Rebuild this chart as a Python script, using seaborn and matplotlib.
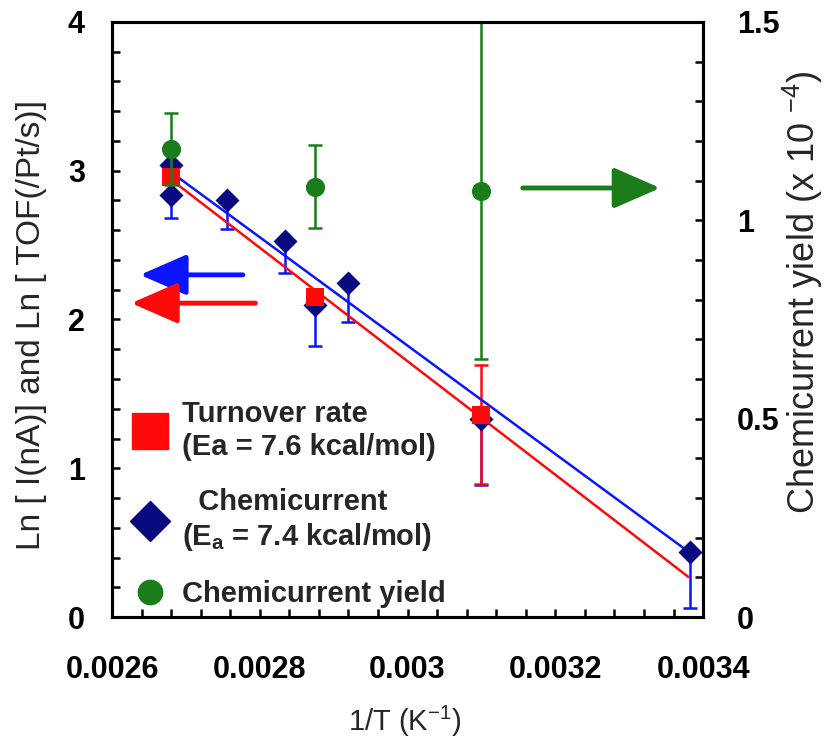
import matplotlib
matplotlib.use("Agg")
import matplotlib.pyplot as plt
from matplotlib.lines import Line2D
from matplotlib.ticker import MultipleLocator, FixedLocator
import seaborn as sns
import pandas as pd

# ---------------- data ----------------
x_tor = [0.00268, 0.002875, 0.0031]
y_tor = [2.96, 2.15, 1.36]
err_tor_low = [0.05, 0.05, 0.465]
err_tor_high = [0.05, 0.05, 0.335]

x_cc = [0.00268, 0.00268, 0.002756, 0.002834, 0.002875, 0.002919, 0.0031, 0.003382]
y_cc = [3.04, 2.84, 2.80, 2.53, 2.10, 2.245, 1.33, 0.44]
err_cc_low = [0.0, 0.16, 0.19, 0.22, 0.28, 0.265, 0.44, 0.38]

x_yield = [0.00268, 0.002875, 0.0031]
y_yield = [1.18, 1.085, 1.075]
err_yield = [0.09, 0.105, 0.425]

fit_x = [0.00268, 0.00338]
fit_tor = [2.94, 0.27]
fit_cc = [2.99, 0.44]

x_ticks = [0.0026, 0.0028, 0.003, 0.0032, 0.0034]
x_ticklabels = ["0.0026", "0.0028", "0.003", "0.0032", "0.0034"]
yl_ticks = [0, 1, 2, 3, 4]
yl_ticklabels = ["0", "1", "2", "3", "4"]
yr_ticks = [0, 0.5, 1.0, 1.5]
yr_ticklabels = ["0", "0.5", "1", "1.5"]

legend_labels = ["Turnover rate\n(Ea = 7.6 kcal/mol)",
                 "  Chemicurrent\n(E$_\\mathbf{a}$ = 7.4 kcal/mol)",
                 "Chemicurrent yield"]

# ---------------- style ----------------
sns.set_style("ticks")
plt.rcParams['font.family'] = ['Liberation Sans', 'DejaVu Sans']
plt.rcParams['mathtext.fontset'] = 'custom'
plt.rcParams['mathtext.rm'] = 'Liberation Sans'
plt.rcParams['mathtext.bf'] = 'Liberation Sans:bold'
plt.rcParams['mathtext.default'] = 'regular'

RED = "#ff0a0a"
BLUE = "#0a14ff"
NAVY = "#0a0a80"
GREEN = "#1a7d1a"

fig = plt.figure(figsize=(8.25, 7.4), dpi=100)
ax = fig.add_axes([0.1358, 0.1662, 0.7164, 0.8041])
ax2 = ax.twinx()

df_fit = pd.DataFrame({"x": fit_x * 2, "y": fit_tor + fit_cc,
                       "s": ["tor"] * 2 + ["cc"] * 2})

# fit lines
sns.lineplot(data=df_fit[df_fit.s == "tor"], x="x", y="y", color=RED, lw=1.8, ax=ax, zorder=3)
sns.lineplot(data=df_fit[df_fit.s == "cc"], x="x", y="y", color=BLUE, lw=1.8, ax=ax, zorder=3)

# error bars
ax.errorbar(x_cc, y_cc, yerr=[err_cc_low, [0] * len(err_cc_low)], fmt="none",
            ecolor=BLUE, elinewidth=1.8, capsize=4.8, capthick=1.8, zorder=2)
ax.errorbar(x_tor, y_tor, yerr=[err_tor_low, err_tor_high], fmt="none",
            ecolor=RED, elinewidth=1.8, capsize=4.8, capthick=1.8, zorder=2.5)

# markers
sns.scatterplot(x=x_cc, y=y_cc, marker="D", s=150, color=NAVY, edgecolor=NAVY,
                linewidth=0, ax=ax, zorder=4)
sns.scatterplot(x=x_tor, y=y_tor, marker="s", s=175, color=RED, edgecolor=RED,
                linewidth=0, ax=ax, zorder=5)

# yield on right axis
ax2.errorbar(x_yield, y_yield, yerr=err_yield, fmt="none",
             ecolor=GREEN, elinewidth=1.8, capsize=4.8, capthick=1.8, zorder=2)
sns.scatterplot(x=x_yield, y=y_yield, marker="o", s=190, color=GREEN, edgecolor=GREEN,
                linewidth=0, ax=ax2, zorder=4)

# arrows
arrow_kw = dict(arrowstyle="-|>,head_length=1.6,head_width=0.7", lw=3.5,
                shrinkA=0, shrinkB=0, mutation_scale=18)
ax.annotate("", xy=(0.002638, 2.30), xytext=(0.002777, 2.30),
            arrowprops=dict(color=BLUE, **arrow_kw))
ax.annotate("", xy=(0.002626, 2.11), xytext=(0.002794, 2.11),
            arrowprops=dict(color=RED, **arrow_kw))
ax.annotate("", xy=(0.003342, 2.884), xytext=(0.003156, 2.884),
            arrowprops=dict(color=GREEN, **arrow_kw))

# axes limits & ticks
ax.set_xlim(0.0026, 0.0034)
ax.set_ylim(0, 4)
ax2.set_ylim(0, 1.5)

ax.xaxis.set_major_locator(FixedLocator(x_ticks))
ax.set_xticklabels(x_ticklabels)
ax.xaxis.set_minor_locator(MultipleLocator(0.00004))
ax.yaxis.set_major_locator(FixedLocator(yl_ticks))
ax.set_yticklabels(yl_ticklabels)
ax.yaxis.set_minor_locator(MultipleLocator(0.2))
ax2.yaxis.set_major_locator(FixedLocator(yr_ticks))
ax2.set_yticklabels(yr_ticklabels)
ax2.yaxis.set_minor_locator(MultipleLocator(0.1))

for a in (ax, ax2):
    a.tick_params(which="both", direction="in", length=6, width=1.8, colors="black")
    for sp in a.spines.values():
        sp.set_linewidth(2.2)
        sp.set_color("black")
ax.tick_params(axis="x", which="both", top=False, pad=27, labelsize=22)
ax.tick_params(axis="y", which="both", right=False, pad=19.5, labelsize=22)
ax2.tick_params(axis="y", which="both", left=False, right=True, pad=24.5, labelsize=22)
for lab in ax.get_xticklabels() + ax.get_yticklabels() + ax2.get_yticklabels():
    lab.set_fontweight("bold")

ax.set_xlabel("1/T (K$^{-1}$)", fontsize=21)
ax.set_ylabel("Ln [ I(nA)] and Ln [ TOF(/Pt/s)]", fontsize=24)
ax2.set_ylabel("Chemicurrent yield (x 10 $^{-4}$)", fontsize=26)

ax.xaxis.set_label_coords(0.496, -0.176)
ax.xaxis.label.set_va("center")
ax.yaxis.set_label_coords(-0.137, 0.49)
ax.yaxis.label.set_va("center")
ax2.yaxis.set_label_coords(1.169, 0.546)
ax2.yaxis.label.set_va("center")

# legend
handles = [
    Line2D([], [], marker="s", color=RED, markersize=25.5, linestyle="none"),
    Line2D([], [], marker="D", color=NAVY, markersize=20.5, linestyle="none"),
    Line2D([], [], marker="o", color=GREEN, markersize=17.5, linestyle="none"),
]
leg = ax2.legend(handles, legend_labels, loc="lower left", bbox_to_anchor=(0.0, 0.0),
                 frameon=False, prop={"size": 21, "weight": "bold"},
                 handletextpad=0.1, labelspacing=0.94, handlelength=2.0,
                 borderaxespad=0.0, borderpad=0.3)

fig.savefig("out.png", dpi=100)
